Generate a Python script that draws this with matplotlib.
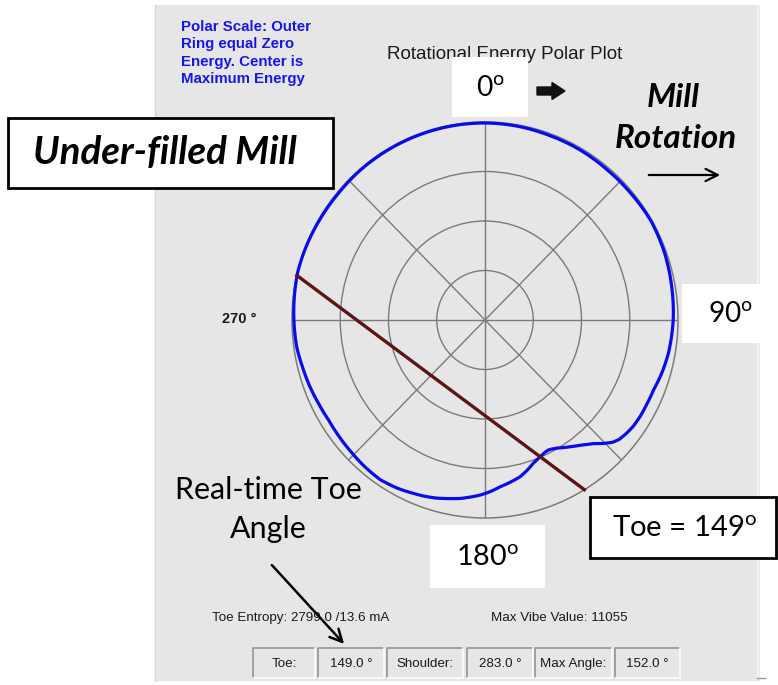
import numpy as np
import matplotlib
matplotlib.use("Agg")
import matplotlib.pyplot as plt
from matplotlib.patches import Rectangle, FancyArrow, PathPatch
from matplotlib.path import Path

plt.rcParams['mathtext.fontset'] = 'custom'
plt.rcParams['mathtext.rm'] = 'Lato'
plt.rcParams['mathtext.it'] = 'Lato:italic'
plt.rcParams['mathtext.bf'] = 'Lato:bold'

# ---------------- data ----------------
# blue trace: polar radius (outer ring = zero energy, centre = max energy)
energy_angle_deg = [0, 10, 20, 30, 40, 50, 60, 70, 80, 90, 100, 106, 112, 117, 121,
                    125, 128, 131, 133, 135.5, 138, 141, 143, 145.5, 148, 150, 152,
                    153.5, 155, 157.5, 159, 161, 164, 167, 171, 174.5, 178, 181.5,
                    185, 188, 192, 196, 200, 203, 208, 214, 220, 226, 232, 238, 244,
                    250, 256, 262, 270, 277, 284, 292, 300, 310, 320, 330, 340, 350, 360]
energy_radius = [0.995, 0.993, 0.99, 0.99, 0.988, 0.99, 0.995, 0.99, 0.982, 0.975,
                 0.965, 0.955, 0.942, 0.94, 0.94, 0.937, 0.93, 0.92, 0.905, 0.874,
                 0.84, 0.811, 0.795, 0.777, 0.76, 0.747, 0.738, 0.734, 0.737, 0.747,
                 0.755, 0.766, 0.79, 0.812, 0.83, 0.845, 0.866, 0.884, 0.898, 0.91,
                 0.922, 0.935, 0.945, 0.951, 0.963, 0.972, 0.968, 0.962, 0.958, 0.955,
                 0.96, 0.968, 0.975, 0.985, 0.99, 0.995, 1.0, 0.998, 0.995, 0.993,
                 0.995, 0.995, 0.995, 0.995, 0.995]
ring_levels = [0.25, 0.5, 0.75, 1.0]
spoke_angles = [0, 45, 90, 135, 180, 225, 270, 315]
toe_angle = 149.0
shoulder_angle = 283.0
max_angle = 152.0
toe_entropy = 2799.0
current_mA = 13.6
max_vibe = 11055
info_lines = ["Polar Scale: Outer", "Ring equal Zero", "Energy. Center is", "Maximum Energy"]

# ---------------- figure ----------------
W, H = 778, 685
fig = plt.figure(figsize=(W / 100, H / 100), dpi=100)
fig.patch.set_facecolor('white')
renderer = fig.canvas.get_renderer()

bg = fig.add_axes([0, 0, 1, 1], zorder=0)
bg.set_xlim(0, W); bg.set_ylim(H, 0); bg.axis('off')

PANEL = '#E6E6E6'
bg.add_patch(Rectangle((155, 5), 605, 676, facecolor=PANEL, edgecolor='none'))
bg.plot([155, 155], [5, 681], color='#D6D6D6', lw=1)
bg.plot([758, 758], [5, 678], color='#F7F7F7', lw=1.2)
bg.plot([757, 765], [678, 678], color='#9A9A9A', lw=1)

# polar axes
cx, cy, Rx, Ry = 485, 320, 193, 198
pax = fig.add_axes([(cx - Rx) / W, (H - cy - Ry) / H, 2 * Rx / W, 2 * Ry / H],
                   projection='polar', zorder=1)
pax.set_facecolor('none')
pax.set_theta_zero_location('N')
pax.set_theta_direction(-1)
pax.set_ylim(0, ring_levels[-1])
pax.set_rgrids(ring_levels[:-1], labels=[''] * (len(ring_levels) - 1))
pax.set_thetagrids(spoke_angles, labels=[''] * len(spoke_angles))
pax.grid(True, color='#7A7A7A', lw=1.0)
pax.tick_params(length=0)
pax.spines['polar'].set_color('#7A7A7A')
pax.spines['polar'].set_linewidth(1.1)
pax.set_aspect('auto')

# energy trace, drawn as a path so the polar transform curves each segment
trace = Path(np.column_stack([np.deg2rad(energy_angle_deg), energy_radius]),
             _interpolation_steps=12)
pax.add_patch(PathPatch(trace, transform=pax.transData, facecolor='none',
                        edgecolor='#0A0AEE', lw=2.3, clip_on=False, zorder=3,
                        joinstyle='round'))
pax.plot(np.deg2rad([shoulder_angle, toe_angle]), [ring_levels[-1], ring_levels[-1]],
         color='#5E1414', lw=2.4, clip_on=False, zorder=4)

# overlay axes
fg = fig.add_axes([0, 0, 1, 1], zorder=2)
fg.set_xlim(0, W); fg.set_ylim(H, 0); fg.axis('off')


def fit(t, target_w):
    bb = t.get_window_extent(renderer=renderer)
    t.set_fontsize(t.get_fontsize() * target_w / bb.width)
    return t


# screenshot texts
fg.text(387, 59, "Rotational Energy Polar Plot", fontsize=13.5, family='Liberation Sans',
        color='#1A1A1A', ha='left', va='baseline', zorder=1)
for i, line in enumerate(info_lines):
    fg.text(181, 31 + i * 17.3, line, fontsize=10.8, family='Liberation Sans',
            fontweight='bold', color='#1515F0', ha='left', va='baseline')
fg.text(222, 319, "270 °", fontsize=10.5, family='Liberation Sans', fontweight='bold',
        color='#1A1A1A', ha='left', va='center')
fg.text(212, 618, f"Toe Entropy: {toe_entropy:.1f} /{current_mA:.1f} mA", fontsize=9.6,
        family='Liberation Sans', color='#1A1A1A', ha='left', va='center')
fg.text(491, 618, f"Max Vibe Value: {max_vibe}", fontsize=9.6,
        family='Liberation Sans', color='#1A1A1A', ha='left', va='center')

# black arrow icon
fg.add_patch(FancyArrow(537, 91, 15, 0, width=8, head_width=17, head_length=13,
                        length_includes_head=False, color='#111111'))

# bottom field boxes
fields = [("Toe:", 253, 315), (f"{toe_angle:.1f} °", 318, 384),
          ("Shoulder:", 387, 463), (f"{shoulder_angle:.1f} °", 467, 533),
          ("Max Angle:", 535, 612), (f"{max_angle:.1f} °", 615, 680)]
by0, by1 = 648, 678
for label, x0, x1 in fields:
    fg.plot([x0, x0, x1], [by1, by0, by0], color='#8E8E8E', lw=1.1)
    fg.plot([x0, x1, x1], [by1, by1, by0], color='#FFFFFF', lw=1.1)
    fg.text((x0 + x1) / 2, (by0 + by1) / 2 + 1, label, fontsize=9.6,
            family='Liberation Sans', color='#1A1A1A', ha='center', va='center')

# ---------------- annotations ----------------
SANS = 'Lato'


def white_box(x0, y0, x1, y1, border=False):
    fg.add_patch(Rectangle((x0, y0), x1 - x0, y1 - y0, facecolor='white',
                           edgecolor='black' if border else 'none',
                           lw=2 if border else 0, zorder=5))


white_box(452, 57, 528, 117)
t = fg.text(490, 88, r"0$^{\mathrm{o}}$", family=SANS, fontsize=20, ha='center',
            va='center', zorder=6)
fit(t, 29)

white_box(682, 284, 778, 343)
t = fg.text(730, 314, r"90$^{\mathrm{o}}$", family=SANS, fontsize=20, ha='center',
            va='center', zorder=6)
fit(t, 45)

white_box(430, 525, 545, 588)
t = fg.text(487, 557, r"180$^{\mathrm{o}}$", family=SANS, fontsize=20, ha='center',
            va='center', zorder=6)
fit(t, 63)

white_box(590, 497, 776, 558, border=True)
t = fg.text(685, 528, r"Toe = 149$^{\mathrm{o}}$", family=SANS, fontsize=20,
            ha='center', va='center', zorder=6)
fit(t, 145)

white_box(8, 118, 333, 188, border=True)
t = fg.text(165, 152, "Under-filled Mill", family=SANS, fontsize=25, fontweight='bold',
            style='italic', ha='center', va='center', zorder=6)
fit(t, 264)

t = fg.text(673, 97, "Mill", family=SANS, fontsize=22, fontweight='bold',
            style='italic', ha='center', va='center', zorder=6)
fit(t, 55)
t2 = fg.text(676, 138, "Rotation", family=SANS, fontsize=22, fontweight='bold',
             style='italic', ha='center', va='center', zorder=6)
fit(t2, 122)
t.set_fontsize(t2.get_fontsize())

fg.annotate("", xy=(723, 175), xytext=(646, 175),
            arrowprops=dict(arrowstyle='->', lw=1.6, color='black',
                            mutation_scale=22), zorder=6)

t = fg.text(268, 490, "Real-time Toe", family=SANS, fontsize=20, ha='center',
            va='center', zorder=6)
fit(t, 187)
fg.text(268, 529, "Angle", family=SANS, fontsize=t.get_fontsize(), ha='center',
        va='center', zorder=6)
fg.annotate("", xy=(346, 646), xytext=(270, 563),
            arrowprops=dict(arrowstyle='->', lw=1.8, color='black',
                            mutation_scale=22), zorder=6)

fig.savefig("out.png", dpi=100)
